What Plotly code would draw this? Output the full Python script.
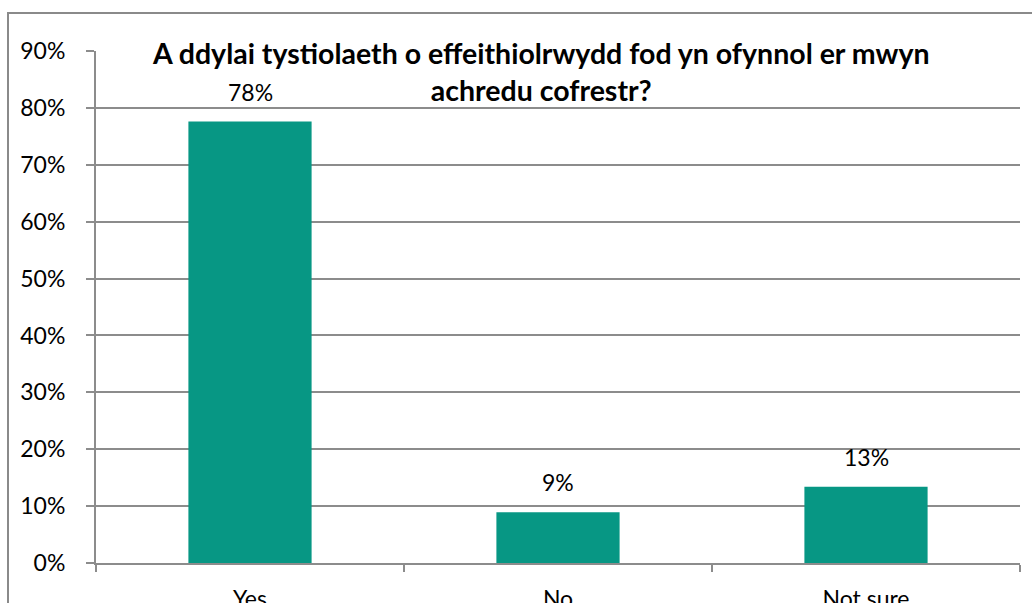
import plotly.graph_objects as go

# Survey responses
categories = ["Yes", "No", "Not sure"]
shares = [0.776, 0.089, 0.134]
y_ticks = [0, 0.1, 0.2, 0.3, 0.4, 0.5, 0.6, 0.7, 0.8, 0.9]
y_tick_labels = ["0%", "10%", "20%", "30%", "40%", "50%", "60%", "70%", "80%", "90%"]

title_text = "A ddylai tystiolaeth o effeithiolrwydd fod yn ofynnol er mwyn<br>achredu cofrestr?"

FONT = "Lato"
GRID = "#8c8c8c"
BAR = "#079784"

W, H = 1032, 603
ML, MR, MT, MB = 96, 12, 51, 40
pw = W - ML - MR
ph = H - MT - MB

fig = go.Figure(
    go.Bar(
        x=categories,
        y=shares,
        width=0.4,
        marker=dict(color=BAR, line=dict(width=0)),
        hoverinfo="skip",
    )
)

# value labels above the bars
for c, v in zip(categories, shares):
    fig.add_annotation(
        x=c, y=v, xref="x", yref="y",
        text=f"{v * 100:.0f}%",
        showarrow=False, yanchor="bottom", yshift=14,
        font=dict(family=FONT, size=23, color="#000000"),
    )

# title (pixel position converted to paper coordinates)
fig.add_annotation(
    x=(541 - ML) / pw, y=(H - MB - 71) / ph, xref="paper", yref="paper",
    text="<b>" + title_text + "</b>",
    showarrow=False, xanchor="center", yanchor="middle", align="center",
    font=dict(family=FONT, size=28.5, color="#000000"),
)

# chart-area border
fig.add_shape(
    type="rect", xref="paper", yref="paper",
    x0=(8 - ML) / pw, x1=(1045 - ML) / pw,
    y0=(H - MB - 640) / ph, y1=(H - MB - 13) / ph,
    line=dict(color="#8a8a8a", width=2), fillcolor="rgba(0,0,0,0)", layer="below",
)

fig.update_layout(
    width=W, height=H,
    margin=dict(l=ML, r=MR, t=MT, b=MB),
    paper_bgcolor="white", plot_bgcolor="white",
    showlegend=False,
    font=dict(family=FONT, size=23, color="#000000"),
    bargap=0.6,
)
fig.update_xaxes(
    type="category",
    automargin=False,
    tickson="boundaries",
    ticks="outside", ticklen=7, tickwidth=2, tickcolor=GRID,
    showline=True, linecolor=GRID, linewidth=2,
    showgrid=False,
    tickfont=dict(family=FONT, size=23),
    ticklabelstandoff=14,
)
fig.update_yaxes(
    automargin=False,
    range=[0, 0.9],
    tickvals=y_ticks, ticktext=y_tick_labels,
    ticks="outside", ticklen=8, tickwidth=2, tickcolor=GRID,
    showline=True, linecolor=GRID, linewidth=2,
    showgrid=True, gridcolor=GRID, gridwidth=2,
    zeroline=False,
    tickfont=dict(family=FONT, size=23),
    ticklabelstandoff=16,
)

fig.write_html("out.html")
